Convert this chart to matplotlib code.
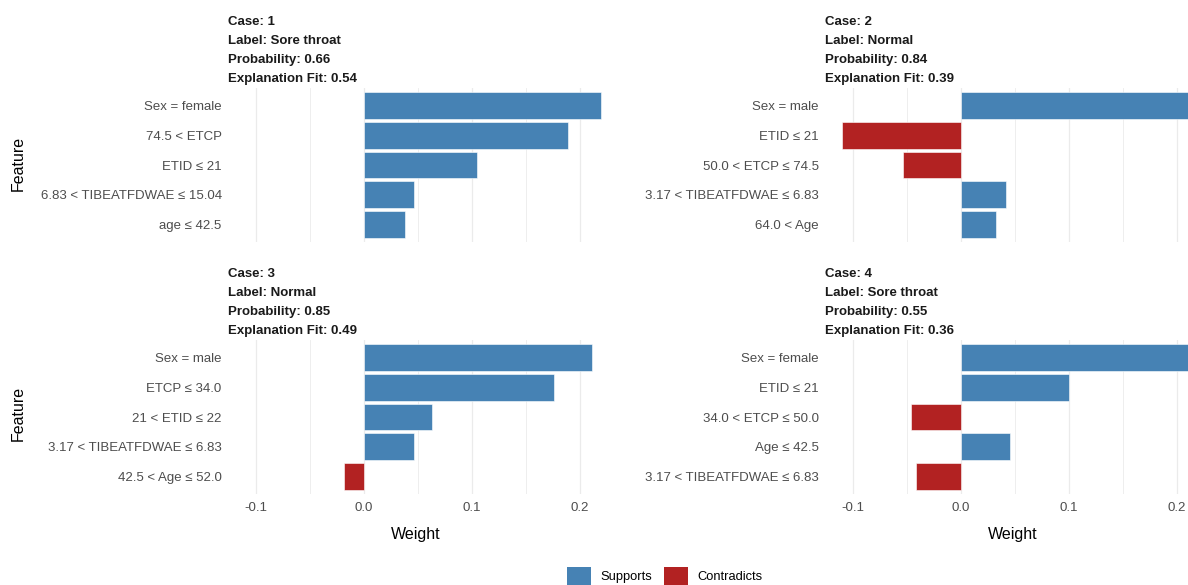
import matplotlib
matplotlib.use("Agg")
import matplotlib.pyplot as plt
from matplotlib.patches import Patch
from matplotlib.ticker import MultipleLocator

plt.rcParams["font.family"] = ["Liberation Sans", "DejaVu Sans"]

# Explanation results for four cases
case_ids = ["1", "2", "3", "4"]
case_labels = ["Sore throat", "Normal", "Normal", "Sore throat"]
probabilities = [0.66, 0.84, 0.85, 0.55]
explanation_fits = [0.54, 0.39, 0.49, 0.36]

features_1 = ["Sex = female", "74.5 < ETCP", "ETID ≤ 21",
              "6.83 < TIBEATFDWAE ≤ 15.04", "age ≤ 42.5"]
weights_1 = [0.219, 0.189, 0.105, 0.046, 0.038]

features_2 = ["Sex = male", "ETID ≤ 21", "50.0 < ETCP ≤ 74.5",
              "3.17 < TIBEATFDWAE ≤ 6.83", "64.0 < Age"]
weights_2 = [0.235, -0.110, -0.054, 0.042, 0.032]

features_3 = ["Sex = male", "ETCP ≤ 34.0", "21 < ETID ≤ 22",
              "3.17 < TIBEATFDWAE ≤ 6.83", "42.5 < Age ≤ 52.0"]
weights_3 = [0.211, 0.176, 0.063, 0.046, -0.019]

features_4 = ["Sex = female", "ETID ≤ 21", "34.0 < ETCP ≤ 50.0",
              "Age ≤ 42.5", "3.17 < TIBEATFDWAE ≤ 6.83"]
weights_4 = [0.232, 0.100, -0.046, 0.045, -0.042]

all_features = [features_1, features_2, features_3, features_4]
all_weights = [weights_1, weights_2, weights_3, weights_4]

SUPPORT = "#4682B4"
CONTRADICT = "#B22222"
GRID = "#EBEBEB"

W, H = 1188, 585
fig = plt.figure(figsize=(W / 100, H / 100), dpi=100)


def fx(px):
    return px / W


def fy(py):
    return 1 - py / H


panel_w = 376
panel_h = 154
lefts = [228, 825, 228, 825]
tops = [88, 88, 340, 340]
xlim = (-0.126, -0.126 + panel_w / 1080)

for k in range(4):
    left, top = lefts[k], tops[k]
    ax = fig.add_axes([fx(left), fy(top + panel_h), panel_w / W, panel_h / H])
    feats = all_features[k]
    wts = all_weights[k]
    ypos = list(range(len(feats)))
    colors = [SUPPORT if w >= 0 else CONTRADICT for w in wts]
    ax.barh(ypos, wts, height=0.9, color=colors, edgecolor="white",
            linewidth=0.4, zorder=3)
    ax.set_xlim(*xlim)
    ax.set_ylim(len(feats) - 0.4, -0.6)
    ax.set_yticks(ypos)
    ax.set_yticklabels(feats)
    ax.xaxis.set_major_locator(MultipleLocator(0.1))
    ax.xaxis.set_minor_locator(MultipleLocator(0.05))
    ax.grid(axis="x", which="major", color=GRID, linewidth=0.9, zorder=0)
    ax.grid(axis="x", which="minor", color=GRID, linewidth=0.6, zorder=0)
    ax.grid(axis="y", visible=False)
    for s in ax.spines.values():
        s.set_visible(False)
    ax.tick_params(axis="both", which="both", length=0, colors="#4D4D4D",
                   labelsize=9.5)
    ax.tick_params(axis="y", pad=4.5)
    ax.tick_params(axis="x", pad=5.5)
    if k < 2:
        ax.tick_params(axis="x", labelbottom=False)
    else:
        ax.set_xticks([-0.1, 0.0, 0.1, 0.2])
        ax.set_xticklabels(["-0.1", "0.0", "0.1", "0.2"])

    lines = [f"Case: {case_ids[k]}",
             f"Label: {case_labels[k]}",
             f"Probability: {probabilities[k]:.2f}",
             f"Explanation Fit: {explanation_fits[k]:.2f}"]
    for j, line in enumerate(lines):
        fig.text(fx(left), fy(top - 66 + 19 * j), line, fontsize=9.5,
                 fontweight="bold", color="#1A1A1A", ha="left", va="center")

    if k >= 2:
        fig.text(fx(left + panel_w / 2), fy(534), "Weight", fontsize=11.5,
                 color="black", ha="center", va="center")

# Row axis titles
fig.text(fx(18), fy(163), "Feature", rotation=90, fontsize=11.5,
         color="black", ha="center", va="center")
fig.text(fx(18), fy(413), "Feature", rotation=90, fontsize=11.5,
         color="black", ha="center", va="center")

handles = [Patch(facecolor=SUPPORT, edgecolor="none", label="Supports"),
           Patch(facecolor=CONTRADICT, edgecolor="none", label="Contradicts")]
fig.legend(handles=handles, loc="center", bbox_to_anchor=(fx(665), fy(576)),
           ncol=2, frameon=False, fontsize=9.3, handlelength=1.85,
           handleheight=1.85, handletextpad=0.7, columnspacing=0.95,
           borderpad=0, borderaxespad=0)

fig.savefig("out.png", dpi=100)
